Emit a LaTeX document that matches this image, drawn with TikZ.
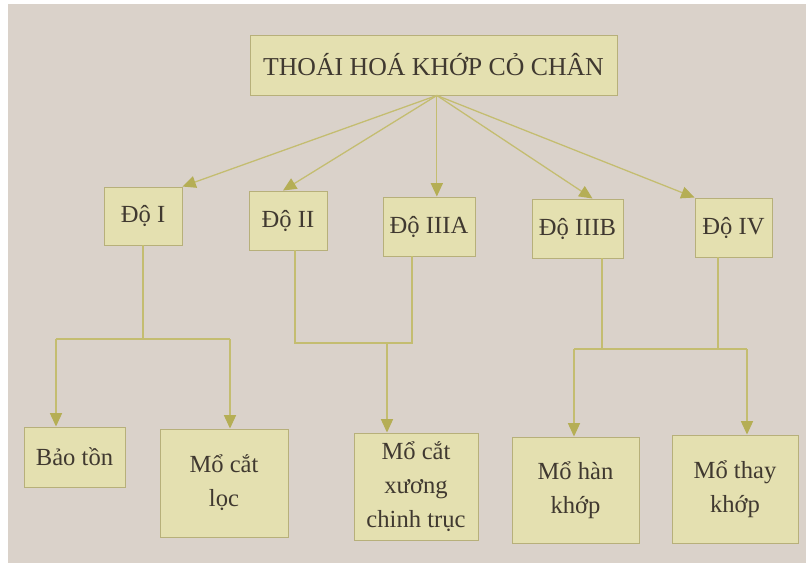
\documentclass[tikz,border=0pt]{standalone}
\usepackage{fontspec}
\setmainfont{Liberation Serif}
\usetikzlibrary{arrows.meta,positioning,calc}
\definecolor{paper}{HTML}{DAD2CA}
\definecolor{boxfill}{HTML}{E4E0B0}
\definecolor{boxline}{HTML}{B7B07A}
\definecolor{linkc}{HTML}{C4BD70}
\definecolor{tipc}{HTML}{B5AE55}
\definecolor{ink}{HTML}{403930}

\begin{document}
\begin{tikzpicture}[
  >={Triangle[length=0.4cm, width=0.36cm, color=tipc]},
  box/.style={rectangle, draw=boxline, line width=0.8pt, fill=boxfill, text=ink,
              align=center, inner sep=0pt, font=\fontsize{21}{29}\selectfont},
  link/.style={draw=linkc, line width=1.1pt},
  arr/.style={->, link},
]

\def\lvl{-10.17}  \def\lvlb{-10.29}  \def\lvlc{-10.47}

% page
\useasboundingbox (0,0) rectangle (24.18,-16.89);
\fill[white] (0,0) rectangle (24.18,-16.89);
\fill[paper] (0.24,-0.12) rectangle (24.18,-16.89);

% title
\node[box, font=\fontsize{22}{29}\selectfont, minimum width=11.01cm, minimum height=1.8cm] (tt) at (13.005,-1.95) {THOÁI HOÁ KHỚP CỎ CHÂN};

% grades
\node[box, minimum width=2.34cm, minimum height=1.74cm] (d1)  at (4.29,-6.48)   {Độ I};
\node[box, minimum width=2.34cm, minimum height=1.77cm] (d2)  at (8.64,-6.615)  {Độ II};
\node[box, minimum width=2.76cm, minimum height=1.77cm] (d3a) at (12.87,-6.795) {Độ IIIA};
\node[box, minimum width=2.73cm, minimum height=1.77cm] (d3b) at (17.325,-6.855) {Độ IIIB};
\node[box, minimum width=2.31cm, minimum height=1.77cm] (d4)  at (22.005,-6.825) {Độ IV};

% treatments
\node[box, minimum width=3.03cm, minimum height=1.8cm]  (bt) at (2.235,-13.71) {Bảo tồn};
\node[box, minimum width=3.84cm, minimum height=3.24cm] (cl) at (6.72,-14.49)  {Mổ cắt\\lọc};
\node[box, minimum width=3.72cm, minimum height=3.21cm] (cx) at (12.48,-14.595) {Mổ cắt\\xương\\chinh trục};
\node[box, minimum width=3.81cm, minimum height=3.18cm] (hk) at (17.265,-14.7) {Mổ hàn\\khớp};
\node[box, minimum width=3.78cm, minimum height=3.24cm] (tk) at (22.05,-14.67) {Mổ thay\\khớp};

% --- title to grades ---
\coordinate (src) at ([xshift=1mm]tt.south);
\draw[arr] (src) -- (d1.north east);
\draw[arr] (src) -- ([xshift=-1.5mm]d2.north);
\draw[arr] (src) -- (src |- d3a.north);
\draw[arr] (src) -- ([xshift=4.5mm]d3b.north);
\draw[arr] (src) -- (d4.north west);

% --- grade I ---
\coordinate (j1l) at (1.68,\lvl);
\coordinate (j1r) at (6.9,\lvl);
\draw[link] (d1.south) -- (d1.south |- j1l);
\draw[link] (j1l) -- (j1r);
\draw[arr] (j1l) -- (j1l |- bt.north);
\draw[arr] (j1r) -- (j1r |- cl.north);

% --- grades II, IIIA ---
\coordinate (j2l) at (8.85,\lvlb);
\coordinate (j2r) at (12.36,\lvlb);
\coordinate (j2m) at (11.61,\lvlb);
\draw[link] (j2l |- d2.south) -- (j2l) -- (j2r) -- (j2r |- d3a.south);
\draw[arr] (j2m) -- (j2m |- cx.north);

% --- grades IIIB, IV ---
\coordinate (j3l) at (17.22,\lvlc);
\coordinate (j3r) at (22.41,\lvlc);
\coordinate (j3a) at (18.06,\lvlc);
\coordinate (j3b) at (21.54,\lvlc);
\draw[link] (j3a |- d3b.south) -- (j3a);
\draw[link] (j3b |- d4.south) -- (j3b);
\draw[link] (j3l) -- (j3r);
\draw[arr] (j3l) -- (j3l |- hk.north);
\draw[arr] (j3r) -- (j3r |- tk.north);

\end{tikzpicture}
\end{document}
